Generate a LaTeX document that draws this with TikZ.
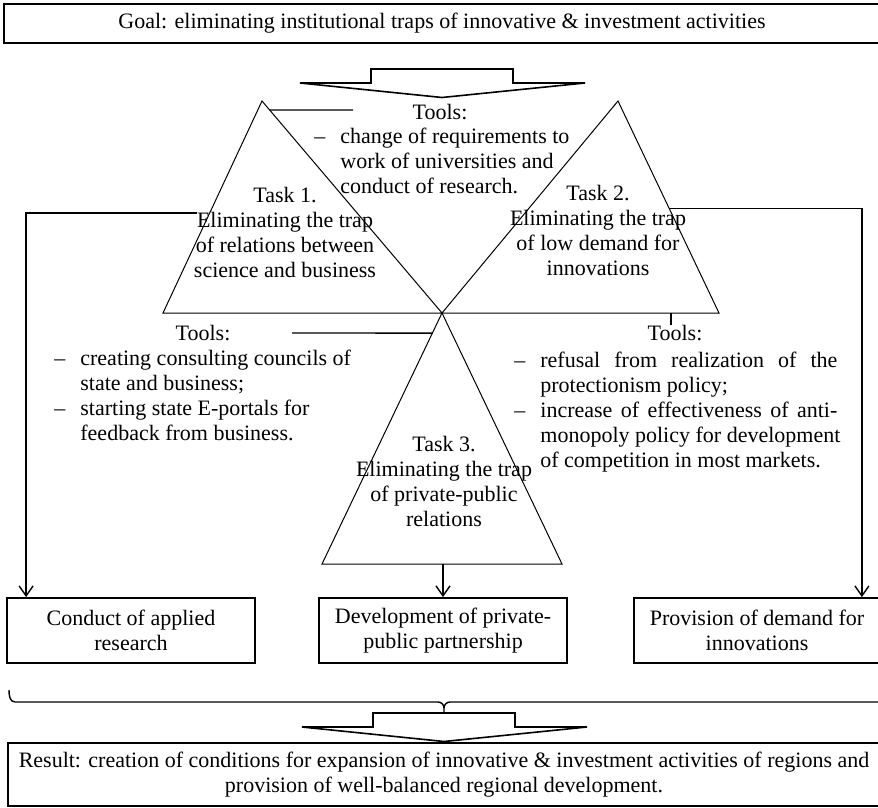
\documentclass[tikz,border=0pt]{standalone}
\usepackage{fontspec}
\setmainfont{Liberation Serif}
\usetikzlibrary{positioning,arrows.meta,calc}
\newcommand{\tooldash}{\llap{--\hspace{7.5pt}}}
% block arrow pointing down: #1 = centre x, #2 = top of stem
\newcommand{\blockarrow}[2]{%
  \draw[bigarrow] (#1-142,#2+14) -- (#1-71,#2+14) -- (#1-71,#2) -- (#1+71,#2)
    -- (#1+71,#2+14) -- (#1+143,#2+14) -- (#1,#2+28.5) -- cycle;}

\begin{document}
\begin{tikzpicture}[x=0.5pt,y=-0.5pt,
  every node/.style={font=\fontsize{11}{12.5}\selectfont,inner sep=0pt},
  frame/.style={draw,line width=0.9pt,align=center},
  edge/.style={line width=0.5pt},
  link/.style={line width=0.7pt},
  arr/.style={link,-{Straight Barb[length=5pt,width=7pt]}},
  bigarrow/.style={draw,line width=0.8pt}]
\useasboundingbox (0,0) rectangle (878,808);
% ---- goal ----
\node[frame,minimum width=438pt,minimum height=19.5pt] (goal) at (442,23.5)
  {Goal: eliminating institutional traps of innovative \& investment activities};
\blockarrow{442}{69}
% ---- three task triangles around the hub ----
\coordinate (hub) at (442,313);
\coordinate (t1a) at (262,101);
\coordinate (t1l) at (163,313);
\coordinate (t2a) at (618,101);
\coordinate (t2r) at (719,313);
\coordinate (t3l) at (322,564);
\coordinate (t3r) at (562,564);
\draw[edge] (t1a) -- (t1l) -- (hub) -- cycle;
\draw[edge] (t2a) -- (hub) -- (t2r) -- cycle;
\draw[edge] (hub) -- (t3l) -- (t3r) -- cycle;
\node[align=center] (task1) at (285,232) {Task 1.\\Eliminating the trap\\of relations between\\science and business};
\node[align=center] (task2) at (598,230) {Task 2.\\Eliminating the trap\\of low demand for\\innovations};
\node[align=center] (task3) at (444,481) {Task 3.\\Eliminating the trap\\of private-public\\relations};
% ---- tools ----
\node (toolsT) at (440,112) {Tools:};
\node[align=left,anchor=north west] (listT) at (340,128)
  {\tooldash change of requirements to\\work of universities and\\conduct of research.};
\node (toolsL) at (203,333) {Tools:};
\node[align=left,anchor=north west] (listL) at (80,350)
  {\tooldash creating consulting councils of\\state and business;\\\tooldash starting state E-portals for\\feedback from business.};
\node (toolsR) at (675,333) {Tools:};
\node[align=left,anchor=north west] (listR) at (540,352)
  {\makebox[148.5pt][s]{\tooldash refusal from realization of the}\\protectionism policy;\\
   \makebox[148.5pt][s]{\tooldash increase of effectiveness of anti-}\\monopoly policy for development\\of competition in most markets.};
\coordinate (kT) at ($(t1a)!0.0425!(hub)$);
\coordinate (eT) at (353,110);
\draw[link] (kT) -- (eT);
\coordinate (kL) at ($(hub)!0.08!(t3l)$);
\coordinate (eL) at (292,333);
\draw[link] (eL) -- (kL);
\coordinate (kR) at (671,313);
\draw[link] (kR) -- (kR |- toolsR.north);
% ---- outcomes ----
\node[frame,minimum width=124pt,minimum height=32.5pt] (conduct) at (131,630.5) {Conduct of applied\\research};
\node[frame,minimum width=124pt,minimum height=32.5pt] (ppp) at (443,630.5) {Development of private-\\public partnership};
\node[frame,minimum width=123pt,minimum height=32.5pt] (provide) at (757,630.5) {Provision of demand for\\innovations};
\coordinate (k1) at (197,213);
\draw[arr] (k1) -| ([xshift=10pt]conduct.north west);
\coordinate (k2) at ($(t2a)!0.507!(t2r)$);
\draw[arr] (k2) -| ([xshift=-9.5pt]provide.north east);
\draw[arr] (t3l -| ppp.north) -- (ppp.north);
% ---- brace and result ----
\draw[link] (9,690) to[out=-90,in=180] (15,702) -- (438,702) to[out=0,in=90] (444,708) -- (444,713);
\draw[link] (444,708) to[out=90,in=180] (450,702) -- (890,702);
\blockarrow{444}{713}
\node[frame,minimum width=436pt,minimum height=31.5pt] (result) at (444,774.5)
  {Result: creation of conditions for expansion of innovative \& investment activities of regions and\\provision of well-balanced regional development.};
\end{tikzpicture}
\end{document}
